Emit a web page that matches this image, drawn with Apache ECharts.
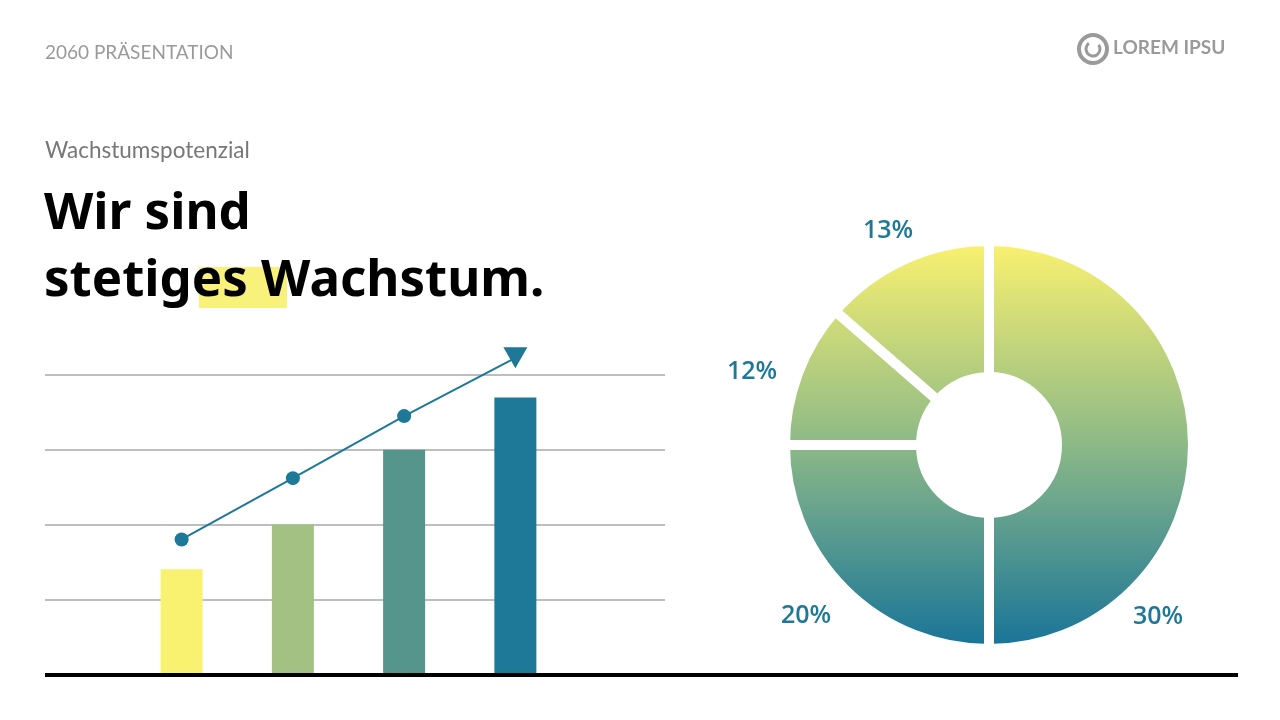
<!DOCTYPE html>
<html><head><meta charset="utf-8">
<script src="https://cdn.jsdelivr.net/npm/echarts@6/dist/echarts.min.js"></script>
<style>html,body{margin:0;padding:0;background:#fff}#c{width:1280px;height:720px}</style>
</head><body><div id="c"></div>
<script>
// ---- data ----
const categories = ['Phase 1', 'Phase 2', 'Phase 3', 'Phase 4'];
const barValues = [1.4, 2.0, 3.0, 3.7];
const trendValues = [1.8, 2.62, 3.45, 4.23];
const barColors = ['#f9f271', '#a3c183', '#55958c', '#1e7898'];
const yTicks = [0, 1, 2, 3, 4];
const pieNames = ['Segment A', 'Segment B', 'Segment C', 'Segment D'];
const pieValues = [50, 25, 11.4, 13.6];
const pieLabels = ['30%', '20%', '12%', '13%'];

// ---- layout constants ----
const FONT = 'Lato, "Noto Sans", sans-serif';
const TITLE_FONT = '"Noto Sans", Lato, sans-serif';
const ACCENT = '#1e7898';
const pieCenter = [989, 445];
const pieOuter = 199, pieInner = 73, gap = 10;
const labelPos = [[1158, 617], [806, 616], [752, 372], [888, 231]];

const chart = echarts.init(document.getElementById('c'), null, {renderer: 'canvas'});

const pieGradient = new echarts.graphic.LinearGradient(
  0, pieCenter[1] - pieOuter, 0, pieCenter[1] + pieOuter,
  [{offset: 0, color: '#f8f070'}, {offset: 0.5, color: '#8cb987'}, {offset: 1, color: '#1a7598'}], true);

const graphics = [
  {type: 'text', left: 45, top: 43, style: {text: '2060 PRÄSENTATION', font: '19px ' + FONT, fill: '#9a9a9a'}},
  {type: 'text', left: 45, top: 139, style: {text: 'Wachstumspotenzial', font: '22.5px ' + FONT, fill: '#777777'}},
  {type: 'rect', shape: {x: 199, y: 267, width: 88, height: 41}, style: {fill: '#f8f27a'}, z: 0},
  {type: 'text', left: 44, top: 189, z: 5, style: {text: 'Wir sind', font: 'bold 51px ' + TITLE_FONT, fill: '#000'}},
  {type: 'text', left: 44, top: 256, z: 5, style: {text: 'stetiges Wachstum.', font: 'bold 51px ' + TITLE_FONT, fill: '#000'}},
  {type: 'line', z: 20, shape: {x1: 45, y1: 675, x2: 1238, y2: 675}, style: {stroke: '#000', lineWidth: 4}},
  {type: 'arc', shape: {cx: 1093, cy: 49, r: 14, startAngle: 0, endAngle: Math.PI * 2}, style: {stroke: '#9a9a9a', lineWidth: 4, fill: null}},
  {type: 'arc', shape: {cx: 1093, cy: 49, r: 7, startAngle: -Math.PI * 0.2, endAngle: Math.PI * 1.3}, style: {stroke: '#9a9a9a', lineWidth: 3, fill: null}},
  {type: 'text', left: 1113, top: 38, style: {text: 'LOREM IPSU', font: 'bold 19px ' + FONT, fill: '#9a9a9a'}}
];
pieLabels.forEach((t, i) => {
  graphics.push({type: 'text', x: labelPos[i][0], y: labelPos[i][1],
    style: {text: t, font: '600 25px "Open Sans", ' + FONT, fill: ACCENT, align: 'center', verticalAlign: 'middle'}});
});

chart.setOption({
  backgroundColor: '#ffffff',
  animation: false,
  grid: [
    {left: 45, right: 1280 - 665, top: 375, bottom: 720 - 674},
    {left: 126, width: 445, top: 375, bottom: 720 - 674}
  ],
  xAxis: [
    {gridIndex: 0, type: 'category', data: categories, show: false},
    {gridIndex: 1, type: 'category', data: categories, show: false}
  ],
  yAxis: [
    {gridIndex: 0, type: 'value', min: yTicks[0], max: yTicks[yTicks.length - 1], interval: 1,
      axisLine: {show: false}, axisTick: {show: false}, axisLabel: {show: false},
      splitLine: {show: true, lineStyle: {color: '#a8a8a8', width: 1.5}}},
    {gridIndex: 1, type: 'value', min: yTicks[0], max: yTicks[yTicks.length - 1], interval: 1, show: false,
      splitLine: {show: false}}
  ],
  graphic: graphics,
  series: [
    {type: 'bar', xAxisIndex: 1, yAxisIndex: 1, barWidth: 42, silent: true,
      data: barValues.map((v, i) => ({value: v, itemStyle: {color: barColors[i]}}))},
    {type: 'line', xAxisIndex: 1, yAxisIndex: 1, clip: false, silent: true, z: 5,
      lineStyle: {color: ACCENT, width: 2}, itemStyle: {color: ACCENT},
      symbol: 'circle', symbolSize: 14,
      data: trendValues.map((v, i) => i === trendValues.length - 1
        ? {value: v, symbol: 'triangle', symbolSize: [24, 21], symbolRotate: 180}
        : {value: v})},
    {type: 'pie', center: pieCenter, radius: [pieInner - gap / 2, pieOuter + gap / 2],
      startAngle: 90, clockwise: true, silent: true, label: {show: false}, labelLine: {show: false},
      itemStyle: {color: pieGradient, borderColor: '#ffffff', borderWidth: gap},
      data: pieValues.map((v, i) => ({name: pieNames[i], value: v}))}
  ]
});
</script></body></html>
